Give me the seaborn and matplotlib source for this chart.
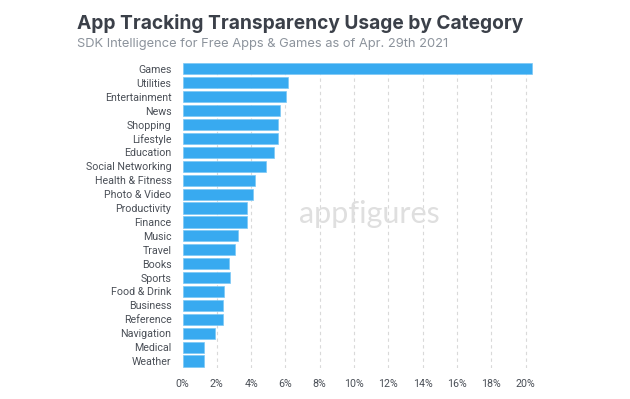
import seaborn as sns
import matplotlib.pyplot as plt
import pandas as pd

# Share of free apps & games using App Tracking Transparency, by category (%)
categories = [
    "Games", "Utilities", "Entertainment", "News", "Shopping", "Lifestyle",
    "Education", "Social Networking", "Health & Fitness", "Photo & Video",
    "Productivity", "Finance", "Music", "Travel", "Books", "Sports",
    "Food & Drink", "Business", "Reference", "Navigation", "Medical", "Weather",
]
usage = [
    20.4, 6.17, 6.03, 5.70, 5.59, 5.55,
    5.35, 4.87, 4.25, 4.13,
    3.78, 3.76, 3.22, 3.04, 2.73, 2.75,
    2.40, 2.36, 2.36, 1.91, 1.27, 1.25,
]
tick_values = [0, 2, 4, 6, 8, 10, 12, 14, 16, 18, 20]

df = pd.DataFrame({"Category": categories, "Usage": usage})

sns.set_style("white")
plt.rcParams["font.family"] = ["Roboto", "DejaVu Sans"]

fig = plt.figure(figsize=(6.3, 3.99), dpi=100)
ax = fig.add_axes([0.2897, 0.0777, 0.5608, 0.767])

# Dashed vertical gridlines behind bars
for t in tick_values[1:]:
    ax.axvline(t, color="#d9d9d9", linestyle=(0, (3, 3)), linewidth=0.8, zorder=0)

sns.barplot(
    data=df,
    x="Usage",
    y="Category",
    orient="h",
    color="#38aaf0",
    saturation=1,
    width=0.8,
    edgecolor="#7cc8f5",
    linewidth=0.5,
    ax=ax,
    zorder=2,
)

ax.set_xlim(0, 20.6)
ax.set_ylim(21.5, -0.5)
ax.set_xticks(tick_values)
ax.set_xticklabels([f"{t}%" for t in tick_values])
ax.set_xlabel("")
ax.set_ylabel("")
ax.tick_params(axis="both", length=0, labelsize=7.7, colors="#4a4f57")
ax.tick_params(axis="y", pad=8)
ax.tick_params(axis="x", pad=8)
for s in ax.spines.values():
    s.set_visible(False)

# Watermark
ax.text(0.587, 0.463, "appfigures", fontsize=22, color="#dfdfdf",
        family=["Lato", "DejaVu Sans"], fontweight="normal", ha="center", va="center",
        transform=fig.transFigure, zorder=1)

# Titles
fig.text(0.122, 0.942, "App Tracking Transparency Usage by Category", fontsize=13.8,
         fontweight="bold", color="#3b4049", family=["Inter", "DejaVu Sans"], va="center")
fig.text(0.122, 0.890, "SDK Intelligence for Free Apps & Games as of Apr. 29th 2021",
         fontsize=9.3, color="#8c939c", family=["Inter", "DejaVu Sans"], va="center")

plt.savefig("out.png", dpi=100)
